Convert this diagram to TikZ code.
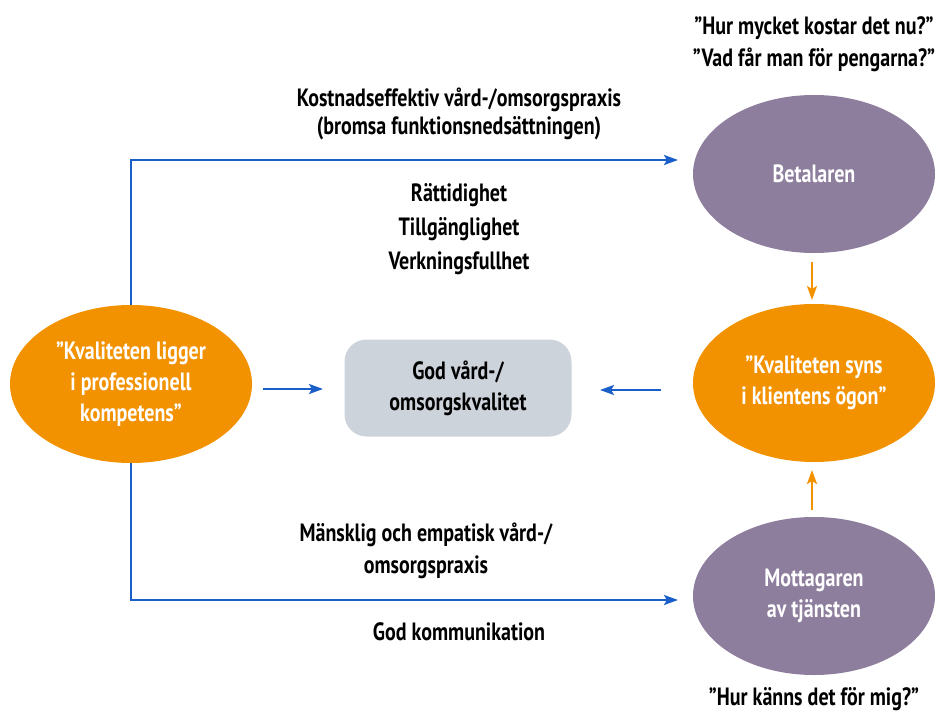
\documentclass[tikz,border=0pt]{standalone}
\usepackage{fontspec}
\setmainfont{PT Sans}[FakeStretch=0.8]
\usetikzlibrary{arrows.meta,shapes.geometric}
\definecolor{orng}{HTML}{F39200}
\definecolor{purp}{HTML}{8D7E9E}
\definecolor{blu}{HTML}{1A5FC7}
\definecolor{gry}{HTML}{CDD3DA}
\begin{document}
\begin{tikzpicture}[x=1pt,y=-1pt,
  ell/.style={ellipse, minimum width=242pt, minimum height=158pt, inner sep=0pt, text=white, align=center, font=\fontsize{25}{31}\selectfont\bfseries},
  lab/.style={align=center, font=\fontsize{25}{33}\selectfont\bfseries, inner sep=0pt},
  barr/.style={draw=blu, line width=2.6pt, -{Stealth[length=14pt,width=10pt,inset=3pt]}},
  bline/.style={draw=blu, line width=2.6pt},
  oarr/.style={draw=orng, line width=2.2pt, -{Stealth[length=14pt,width=10pt,inset=3pt]}}]
\useasboundingbox (0,0) rectangle (937,714);
\node[ell, fill=orng] (L) at (131,384) {”Kvaliteten ligger\\i professionell\\kompetens”};
\node[ell, fill=purp] (B) at (814,174) {Betalaren};
\node[ell, fill=orng] (K) at (814,383) {”Kvaliteten syns\\i klientens ögon”};
\node[ell, fill=purp] (M) at (814,596) {Mottagaren\\av tjänsten};
\node[fill=gry, rounded corners=22pt, minimum width=227pt, minimum height=97pt, align=center, font=\fontsize{25}{31}\selectfont\bfseries] (G) at (458,388) {God vård-/\\omsorgskvalitet};
% labels
\node[lab, font=\fontsize{25}{28}\selectfont\bfseries] (t1) at (459,114) {Kostnadseffektiv vård-/omsorgspraxis\\(bromsa funktionsnedsättningen)};
\node[lab, font=\fontsize{25}{34}\selectfont\bfseries] (t2) at (459,229) {Rättidighet\\Tillgänglighet\\Verkningsfullhet};
\node[lab, font=\fontsize{25}{32}\selectfont\bfseries] (t3) at (426,551) {Mänsklig och empatisk vård-/\\omsorgspraxis};
\node[lab] (t4) at (459,632) {God kommunikation};
\node[lab, font=\fontsize{25}{32}\selectfont\bfseries] (q1) at (814,44) {”Hur mycket kostar det nu?”\\”Vad får man för pengarna?”};
\node[lab] (q2) at (814,699) {”Hur känns det för mig?”};
% connectors
\coordinate (c1) at (131,160);
\coordinate (c2) at (131,600);
\coordinate (e1) at (678,160);
\coordinate (e2) at (678,600);
\draw[bline] (L.north) -- (c1);
\draw[barr] ([xshift=-1.3pt]c1) -- (e1);
\draw[bline] (L.south) -- (c2);
\draw[barr] ([xshift=-1.3pt]c2) -- (e2);
\coordinate (a1) at (263,389);
\coordinate (a2) at (323,389);
\draw[barr] (a1) -- (a2);
\coordinate (b1) at (661,390);
\coordinate (b2) at (600,390);
\draw[barr] (b1) -- (b2);
\coordinate (o1) at (812,262);
\coordinate (o2) at (812,300);
\draw[oarr] (o1) -- (o2);
\coordinate (o3) at (812,510);
\coordinate (o4) at (812,470);
\draw[oarr] (o3) -- (o4);
\end{tikzpicture}
\end{document}
